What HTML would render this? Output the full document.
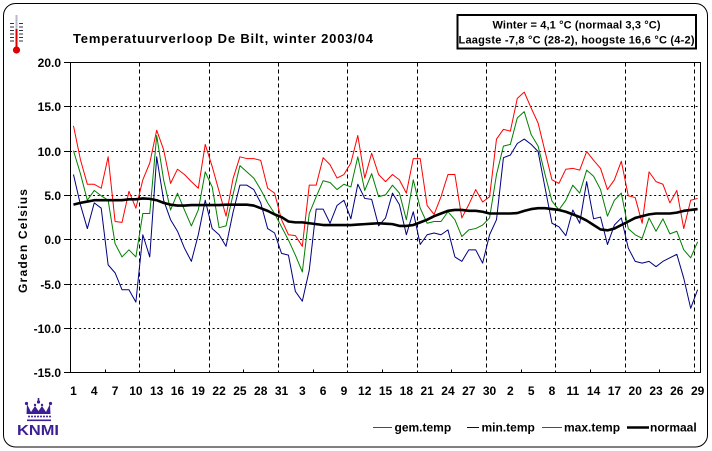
<!DOCTYPE html>
<html>
<head>
<meta charset="utf-8">
<style>
  html,body{margin:0;padding:0;background:#fff;}
  svg{display:block;}
  text{font-family:"Liberation Sans",Arial,sans-serif;fill:#000;}
</style>
</head>
<body>
<svg id="c" width="712" height="451" viewBox="0 0 712 451" xmlns="http://www.w3.org/2000/svg">
  <rect x="0" y="0" width="712" height="451" fill="#fff"/>
  <!-- outer frame -->
  <rect x="3.5" y="3.5" width="704" height="443.5" rx="12" ry="12" fill="#fff" stroke="#000" stroke-width="1"/>

  <!-- thermometer -->
  <g>
    <line x1="16.5" y1="15" x2="16.5" y2="47" stroke="#b8b8c8" stroke-width="2"/>
    <line x1="16.5" y1="29" x2="16.5" y2="48" stroke="#e00000" stroke-width="2"/>
    <circle cx="16.5" cy="50" r="3.6" fill="#e00000"/>
    <g stroke="#303040" stroke-width="1">
      <line x1="10" y1="23.5" x2="14" y2="23.5"/><line x1="19" y1="23.5" x2="23" y2="23.5"/>
      <line x1="10" y1="27" x2="14" y2="27"/><line x1="19" y1="27" x2="23" y2="27"/>
      <line x1="10" y1="30.5" x2="14" y2="30.5"/><line x1="19" y1="30.5" x2="23" y2="30.5"/>
      <line x1="10" y1="34" x2="14" y2="34"/><line x1="19" y1="34" x2="23" y2="34"/>
      <line x1="10" y1="37.5" x2="14" y2="37.5"/><line x1="19" y1="37.5" x2="23" y2="37.5"/>
      <line x1="10" y1="41" x2="14" y2="41"/><line x1="19" y1="41" x2="23" y2="41"/>
    </g>
  </g>

  <!-- title -->
  <text x="73" y="43" font-size="13" font-weight="bold" textLength="300" lengthAdjust="spacing">Temperatuurverloop De Bilt, winter 2003/04</text>

  <!-- info box -->
  <rect x="457.5" y="15" width="238.5" height="33.5" fill="#fff" stroke="#000" stroke-width="2"/>
  <text x="576.5" y="28.5" font-size="11" font-weight="bold" text-anchor="middle" textLength="168" lengthAdjust="spacing">Winter = 4,1 °C (normaal 3,3 °C)</text>
  <text x="576.5" y="43.5" font-size="11" font-weight="bold" text-anchor="middle" textLength="236" lengthAdjust="spacing">Laagste -7,8 °C (28-2), hoogste 16,6 °C (4-2)</text>

  <!-- grid -->
  <g id="grid"></g>
  <!-- series -->
  <polyline id="sMax" fill="none" stroke="#ff0000" stroke-width="1" stroke-linejoin="round"/>
  <polyline id="sGem" fill="none" stroke="#008000" stroke-width="1" stroke-linejoin="round"/>
  <polyline id="sMin" fill="none" stroke="#000080" stroke-width="1" stroke-linejoin="round"/>
  <polyline id="sNorm" fill="none" stroke="#000" stroke-width="2.6" stroke-linejoin="round"/>
  <!-- axes box -->
  <g id="axes"></g>

  <!-- y axis title -->
  <text transform="translate(27,241) rotate(-90)" font-size="12" font-weight="bold" text-anchor="middle" textLength="104" lengthAdjust="spacing">Graden Celsius</text>

  <!-- KNMI logo -->
  <g fill="#3c1f94" stroke="none">
    <path d="M27,404 L31,412 L35,406 L38.5,411 L42,406 L46,412 L50,404 L50.5,414 L26.5,414 Z"/>
    <circle cx="26.5" cy="403.5" r="1.6"/>
    <circle cx="38.5" cy="402" r="1.6"/>
    <circle cx="50.5" cy="403.5" r="1.6"/>
    <circle cx="35" cy="405" r="1.2"/>
    <circle cx="42" cy="405" r="1.2"/>
    <rect x="37.7" y="398" width="1.6" height="3"/>
    <circle cx="29" cy="416.5" r="1"/><circle cx="32" cy="416.5" r="1"/><circle cx="35" cy="416.5" r="1"/>
    <circle cx="38" cy="416.5" r="1"/><circle cx="41" cy="416.5" r="1"/><circle cx="44" cy="416.5" r="1"/>
    <circle cx="47" cy="416.5" r="1"/><circle cx="50" cy="416.5" r="1"/>
    <rect x="27" y="419.5" width="24" height="1.6"/>
  </g>
  <text x="17" y="435" font-size="14.5" font-weight="600" style="fill:#3c1f94" textLength="42" lengthAdjust="spacingAndGlyphs">KNMI</text>

  <!-- legend -->
  <line x1="373" y1="427.5" x2="392" y2="427.5" stroke="#008000" stroke-width="1"/>
  <text x="394.5" y="431.5" font-size="12" font-weight="bold">gem.temp</text>
  <line x1="467" y1="427.5" x2="479" y2="427.5" stroke="#000080" stroke-width="1"/>
  <text x="481.5" y="431.5" font-size="12" font-weight="bold">min.temp</text>
  <line x1="542" y1="427.5" x2="562" y2="427.5" stroke="#ff0000" stroke-width="1"/>
  <text x="564" y="431.5" font-size="12" font-weight="bold">max.temp</text>
  <line x1="627" y1="427.5" x2="649" y2="427.5" stroke="#000" stroke-width="2.6"/>
  <text x="650" y="431.5" font-size="12" font-weight="bold">normaal</text>
</svg>
<script>
(function(){
  var NS="http://www.w3.org/2000/svg";
  var L=70, R=700.5, T=62, B=372, W=6.935;
  function X(i){return L+(i+0.5)*W;}
  function Y(t){return 239.2 - t*8.86;}
  var mx=[12.8,9.0,6.2,6.2,5.75,9.3,2.0,1.9,5.4,3.5,6.7,8.6,12.3,10.1,6.3,7.9,7.3,6.5,5.75,10.7,8.2,5.4,2.6,6.8,9.3,9.1,9.1,8.9,5.75,5.2,2.2,0.5,0.4,-0.8,6.1,6.1,9.2,8.4,6.9,7.3,8.6,11.7,6.9,9.7,7.3,6.5,7.3,6.7,5.2,9.1,9.1,3.8,2.8,4.8,7.3,7.3,2.4,3.9,5.6,4.2,4.8,11.3,12.4,12.2,15.9,16.6,14.8,13.1,9.9,6.7,6.3,7.9,8.0,7.8,9.9,8.9,8.0,5.6,6.7,8.8,4.9,4.7,1.8,7.6,6.5,6.2,4.1,5.5,1.2,4.4,4.6];
  var gm=[10.0,7.4,4.4,5.5,4.9,4.4,-0.5,-2.0,-1.2,-2.0,2.9,2.9,11.7,6.7,3.3,5.2,3.3,1.5,3.3,7.6,5.9,1.3,1.5,5.0,8.3,7.6,6.9,5.6,4.1,2.9,1.4,-0.1,-1.8,-3.7,2.9,4.8,6.6,6.4,5.6,6.2,5.9,9.3,5.5,7.4,4.8,5.0,6.1,5.2,2.2,6.7,3.5,1.8,2.0,2.0,3.1,2.2,0.3,1.05,1.2,1.6,2.4,7.3,10.5,10.7,13.7,14.4,11.8,10.5,7.3,4.3,3.3,4.4,6.1,5.2,7.8,7.1,5.6,2.6,4.4,5.2,1.2,0.5,0.1,2.4,0.9,2.3,0.6,0.9,-1.2,-2.1,-0.3];
  var mn=[7.3,3.9,1.2,4.1,3.5,-2.9,-3.8,-5.7,-5.7,-7.1,0.5,-2.0,9.3,4.4,2.2,0.9,-1.0,-2.5,0.5,4.4,1.2,0.5,-0.8,3.0,6.1,6.1,5.6,4.1,1.2,0.7,-1.6,-1.8,-5.9,-7.0,-3.5,3.4,3.4,1.8,3.8,4.4,2.3,6.2,4.6,4.5,1.5,2.4,5.2,3.9,0.5,3.1,-0.6,0.5,0.7,0.5,1.05,-2.0,-2.5,-1.2,-1.2,-2.7,0.5,2.2,9.2,9.5,10.8,11.3,10.7,9.9,5.8,1.8,1.4,0.4,3.3,1.8,6.5,2.3,2.5,-0.6,1.6,2.4,-1.0,-2.5,-2.7,-2.5,-3.1,-2.5,-2.1,-1.7,-4.4,-7.8,-5.7];
  var nm=[3.9,4.1,4.25,4.4,4.4,4.4,4.4,4.4,4.5,4.5,4.6,4.55,4.4,4.1,3.9,3.8,3.8,3.85,3.85,3.85,3.85,3.85,3.9,3.9,3.9,3.9,3.8,3.5,3.2,2.8,2.5,2.0,1.9,1.9,1.8,1.7,1.6,1.6,1.6,1.6,1.6,1.65,1.7,1.75,1.8,1.75,1.7,1.5,1.5,1.6,1.9,2.2,2.6,2.9,3.2,3.3,3.3,3.2,3.2,3.1,2.9,2.9,2.9,2.9,2.95,3.2,3.4,3.5,3.5,3.4,3.3,3.1,2.8,2.5,2.1,1.6,1.1,1.0,1.2,1.6,2.0,2.4,2.6,2.8,2.9,2.9,2.9,3.0,3.2,3.3,3.4];
  function pts(a){var s=[];for(var i=0;i<a.length;i++){s.push(X(i).toFixed(2)+","+Y(a[i]).toFixed(2));}return s.join(" ");}
  document.getElementById("sMax").setAttribute("points",pts(mx));
  document.getElementById("sGem").setAttribute("points",pts(gm));
  document.getElementById("sMin").setAttribute("points",pts(mn));
  document.getElementById("sNorm").setAttribute("points",pts(nm));
  function el(tag,attrs,parent,txt){var e=document.createElementNS(NS,tag);for(var k in attrs)e.setAttribute(k,attrs[k]);if(txt!==undefined)e.textContent=txt;parent.appendChild(e);return e;}
  var g=document.getElementById("grid");
  var vals=[15,10,5,0,-5,-10];
  vals.forEach(function(v){var y=Math.round(Y(v))+0.5;el("line",{x1:70,y1:y,x2:700,y2:y,stroke:"#000","stroke-width":1,"stroke-dasharray":"2,2.6"},g);});
  for(var k=1;k<=9;k++){var x=Math.round(L+10*k*W)+0.5;el("line",{x1:x,y1:62.5,x2:x,y2:372,stroke:"#000","stroke-width":1,"stroke-dasharray":"4,3"},g);}
  var a=document.getElementById("axes");
  el("rect",{x:70.5,y:62.5,width:630,height:310,fill:"none",stroke:"#000","stroke-width":1},a);
  var yl=[20,15,10,5,0,-5,-10,-15];
  yl.forEach(function(v){var y=Math.round(Y(v))+0.5;el("line",{x1:64,y1:y,x2:70.5,y2:y,stroke:"#000","stroke-width":1},a);
    el("text",{x:61,y:(y+4.5).toFixed(1),"font-size":12,"font-weight":"bold","text-anchor":"end"},a,v.toFixed(1));});
  for(var m=5;m<91;m+=10){var x2=Math.round(L+m*W)+0.5;el("line",{x1:x2,y1:369.5,x2:x2,y2:372,stroke:"#000","stroke-width":1},a);}
  var labs=[];
  for(var d=1;d<=31;d+=3)labs.push(d);
  for(var d2=3;d2<=31;d2+=3)labs.push(d2);
  for(var d3=2;d3<=29;d3+=3)labs.push(d3);
  for(var j=0;j<labs.length;j++){el("text",{x:X(j*3).toFixed(2),y:395,"font-size":12,"font-weight":"bold","text-anchor":"middle"},a,String(labs[j]));}
})();
</script>
</body>
</html>
